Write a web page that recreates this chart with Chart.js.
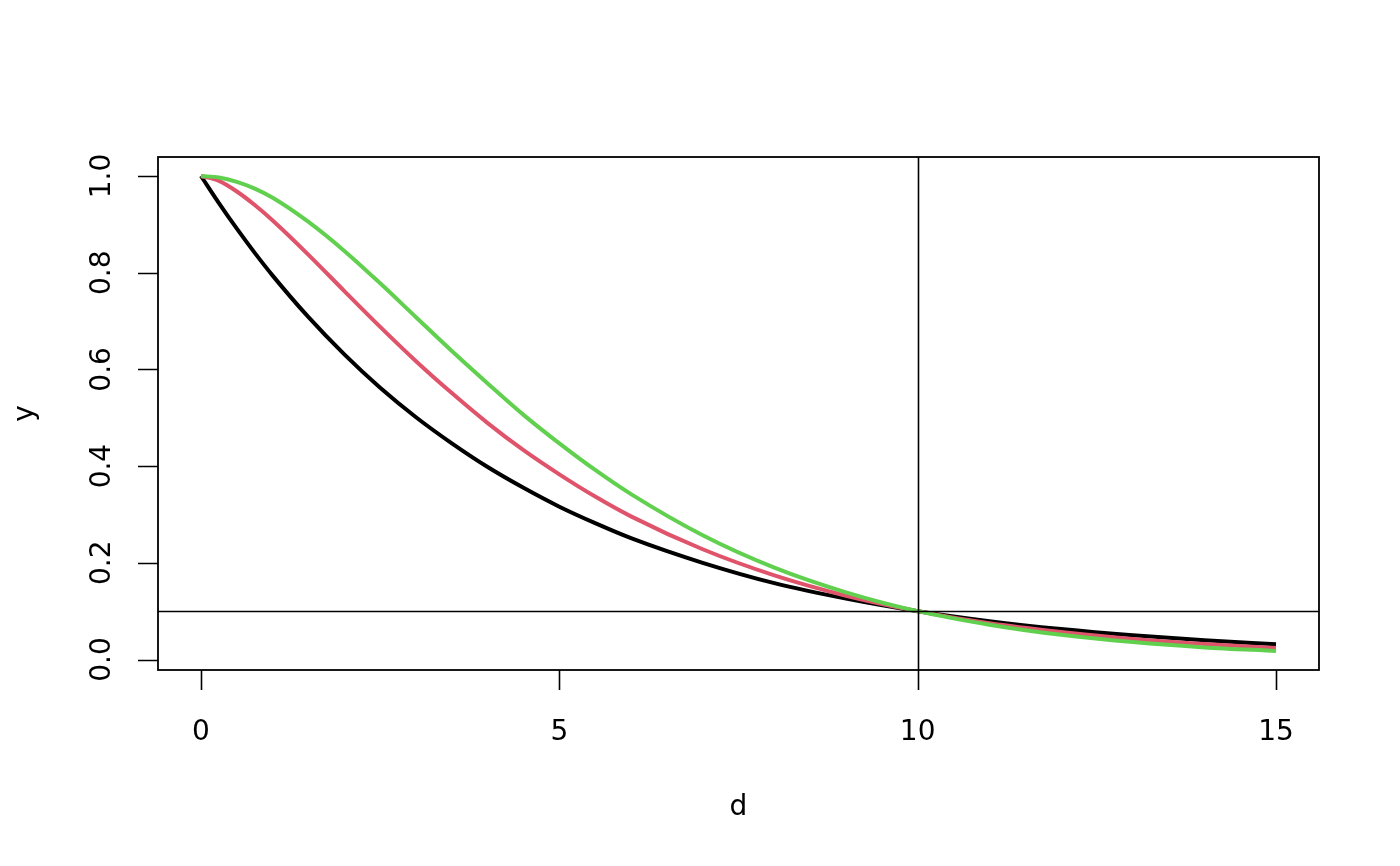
<!DOCTYPE html>
<html>
<head>
<meta charset="utf-8">
<script src="https://cdn.jsdelivr.net/npm/chart.js@4.4.1/dist/chart.umd.min.js"></script>
<style>
html,body{margin:0;padding:0;background:#ffffff;}
#wrap{width:1400px;height:866px;}
</style>
</head>
<body>
<div id="wrap"><canvas id="c" width="1400" height="866"></canvas></div>
<script>
// distance values (x axis "d")
const dValues = [0,0.25,0.5,0.75,1,1.5,2,2.5,3,3.5,4,4.5,5,5.5,6,7,8,9,10,11,12,13,14,15];
// black curve
const seriesBlack = [1,0.944,0.891,0.841,0.794,0.708,0.631,0.562,0.501,0.447,0.398,0.355,0.316,0.282,0.251,0.200,0.158,0.126,0.100,0.0794,0.0631,0.0501,0.0398,0.0316];
// red curve
const seriesRed = [1,0.990,0.968,0.940,0.908,0.837,0.762,0.688,0.617,0.551,0.489,0.433,0.383,0.337,0.296,0.228,0.174,0.132,0.100,0.075,0.057,0.0425,0.032,0.024];
// green curve
const seriesGreen = [1,0.997,0.988,0.974,0.955,0.905,0.845,0.778,0.708,0.638,0.571,0.506,0.447,0.392,0.342,0.257,0.190,0.139,0.100,0.072,0.051,0.036,0.025,0.0176];
// ticks
const xTickValues = [0,5,10,15];
const xTickLabels = ['0','5','10','15'];
const yTickValues = [0,0.2,0.4,0.6,0.8,1.0];
const yTickLabels = ['0.0','0.2','0.4','0.6','0.8','1.0'];
// reference lines
const hLineValue = 0.1;
const vLineValue = 10;
const xTitle = 'd';
const yTitle = 'y';

function toPoints(ys){ return dValues.map((x,i)=>({x:x,y:ys[i]})); }

const FONT = '28px "DejaVu Sans"';

const rPlot = {
  id:'rPlot',
  afterDraw(chart){
    const ctx = chart.ctx, a = chart.chartArea;
    const xs = chart.scales.x, ys = chart.scales.y;
    ctx.save();
    ctx.strokeStyle = '#000';
    ctx.fillStyle = '#000';
    // reference lines
    ctx.lineWidth = 1.6;
    const hy = Math.round(ys.getPixelForValue(hLineValue)) + 0.5;
    const vx = Math.round(xs.getPixelForValue(vLineValue)) + 0.5;
    ctx.beginPath();
    ctx.moveTo(a.left, hy); ctx.lineTo(a.right, hy);
    ctx.moveTo(vx, a.top); ctx.lineTo(vx, a.bottom);
    ctx.stroke();
    // box
    ctx.lineWidth = 1.8;
    ctx.strokeRect(a.left, a.top, a.right - a.left, a.bottom - a.top);
    // axis ticks
    ctx.lineWidth = 1.6;
    ctx.beginPath();
    xTickValues.forEach(v=>{
      const px = Math.round(xs.getPixelForValue(v)) + 0.5;
      ctx.moveTo(px, a.bottom); ctx.lineTo(px, a.bottom + 20);
    });
    yTickValues.forEach(v=>{
      const py = Math.round(ys.getPixelForValue(v)) + 0.5;
      ctx.moveTo(a.left, py); ctx.lineTo(a.left - 20, py);
    });
    ctx.stroke();
    // labels
    ctx.font = FONT;
    ctx.textAlign = 'center';
    ctx.textBaseline = 'alphabetic';
    xTickValues.forEach((v,i)=>{
      ctx.fillText(xTickLabels[i], xs.getPixelForValue(v), 740);
    });
    ctx.fillText(xTitle, (a.left + a.right)/2, 815);
    yTickValues.forEach((v,i)=>{
      ctx.save();
      ctx.translate(110, ys.getPixelForValue(v));
      ctx.rotate(-Math.PI/2);
      ctx.fillText(yTickLabels[i], 0, 0);
      ctx.restore();
    });
    ctx.save();
    ctx.translate(33, (a.top + a.bottom)/2);
    ctx.rotate(-Math.PI/2);
    ctx.fillText(yTitle, 0, 0);
    ctx.restore();
    ctx.restore();
  }
};

const lineDefaults = {fill:false, pointRadius:0, borderWidth:4, cubicInterpolationMode:'monotone', borderJoinStyle:'round', borderCapStyle:'butt'};

new Chart(document.getElementById('c'), {
  type:'line',
  data:{
    datasets:[
      Object.assign({label:'black', data:toPoints(seriesBlack), borderColor:'#000000', order:3}, lineDefaults),
      Object.assign({label:'red', data:toPoints(seriesRed), borderColor:'#DF536B', order:2}, lineDefaults),
      Object.assign({label:'green', data:toPoints(seriesGreen), borderColor:'#61D04F', order:1}, lineDefaults)
    ]
  },
  options:{
    responsive:false,
    animation:false,
    devicePixelRatio:1,
    layout:{padding:{left:158, right:81, top:157, bottom:196}},
    plugins:{legend:{display:false}, tooltip:{enabled:false}},
    scales:{
      x:{type:'linear', display:false, min:-0.6, max:15.6},
      y:{type:'linear', display:false, min:-0.0217, max:1.0393}
    }
  },
  plugins:[rPlot]
});
</script>
</body>
</html>
